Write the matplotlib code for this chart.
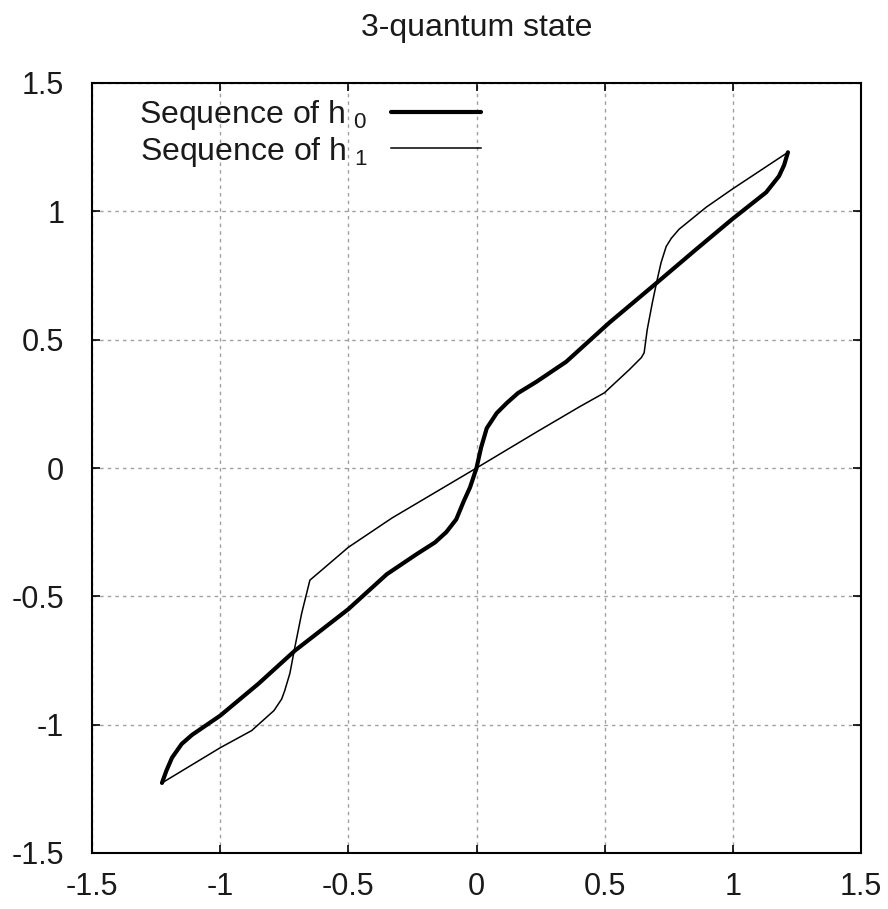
import matplotlib
matplotlib.use("Agg")
import matplotlib.pyplot as plt

plt.rcParams['font.family'] = ['Liberation Sans', 'DejaVu Sans']
plt.rcParams['mathtext.fontset'] = 'custom'
plt.rcParams['mathtext.rm'] = 'Liberation Sans'
plt.rcParams['mathtext.it'] = 'Liberation Sans'

title = "3-quantum state"
labels = [r"Sequence of h$\;_{\mathrm{0}}$", r"Sequence of h$\;_{\mathrm{1}}$"]

h0_x = [-1.227, -1.21, -1.188, -1.15, -1.11, -1.0, -0.85, -0.709, -0.5, -0.35,
        -0.234, -0.162, -0.118, -0.079, -0.05, -0.025, 0.0, 0.018, 0.04, 0.079,
        0.118, 0.162, 0.234, 0.35, 0.518, 0.705, 0.857, 0.997, 1.13, 1.18,
        1.2, 1.215]
h0_y = [-1.227, -1.18, -1.129, -1.075, -1.04, -0.965, -0.84, -0.712, -0.55, -0.414,
        -0.336, -0.29, -0.25, -0.2, -0.13, -0.075, 0.0, 0.08, 0.155, 0.214,
        0.253, 0.292, 0.336, 0.414, 0.566, 0.723, 0.852, 0.969, 1.074, 1.137,
        1.18, 1.23]

h1_x = [-1.227, -1.0, -0.877, -0.79, -0.76, -0.748, -0.728, -0.709, -0.682, -0.65,
        -0.59, -0.5, -0.33, 0.0, 0.234, 0.401, 0.499, 0.596, 0.643, 0.654,
        0.666, 0.686, 0.705, 0.72, 0.74, 0.76, 0.79, 0.896, 0.997, 1.215]
h1_y = [-1.227, -1.09, -1.023, -0.945, -0.9, -0.867, -0.80, -0.70, -0.566, -0.437,
        -0.386, -0.309, -0.195, 0.0, 0.14, 0.238, 0.293, 0.383, 0.43, 0.449,
        0.539, 0.644, 0.734, 0.80, 0.863, 0.895, 0.93, 1.016, 1.086, 1.23]

ticks = [-1.5, -1, -0.5, 0, 0.5, 1, 1.5]
tick_labels = ["-1.5", "-1", "-0.5", "0", "0.5", "1", "1.5"]

fig = plt.figure(figsize=(8.88, 9.09), dpi=100)
ax = fig.add_axes([92/888, 1-853/909, (861-92)/888, (853-83)/909])

ax.plot(h0_x, h0_y, color='black', lw=3.0, label=labels[0],
        solid_joinstyle='round', solid_capstyle='round')
ax.plot(h1_x, h1_y, color='black', lw=1.1, label=labels[1])

ax.set_xlim(-1.5, 1.5)
ax.set_ylim(-1.5, 1.5)
ax.set_xticks(ticks)
ax.set_xticklabels(tick_labels)
ax.set_yticks(ticks)
ax.set_yticklabels(tick_labels)
ax.tick_params(direction='in', length=6, width=1.2, top=True, right=True,
               labelsize=22, colors='black', labelcolor='#1a1a1a')
ax.tick_params(axis='x', pad=14)
ax.tick_params(axis='y', pad=20)
for s in ax.spines.values():
    s.set_linewidth(1.5)
ax.grid(True, color='#a0a0a0', linestyle=(0, (2.5, 3)), linewidth=1.0)
ax.set_axisbelow(True)

ax.set_title(title, fontsize=23, pad=34, color='#1a1a1a')

leg = ax.legend(loc='upper left', bbox_to_anchor=(0.045, 0.997), frameon=False,
                markerfirst=False, fontsize=23, handlelength=2.8,
                handletextpad=0.75, labelspacing=0.08, borderaxespad=0.0)
for t in leg.get_texts():
    t.set_color('#1a1a1a')

fig.savefig("out.png", dpi=100)
